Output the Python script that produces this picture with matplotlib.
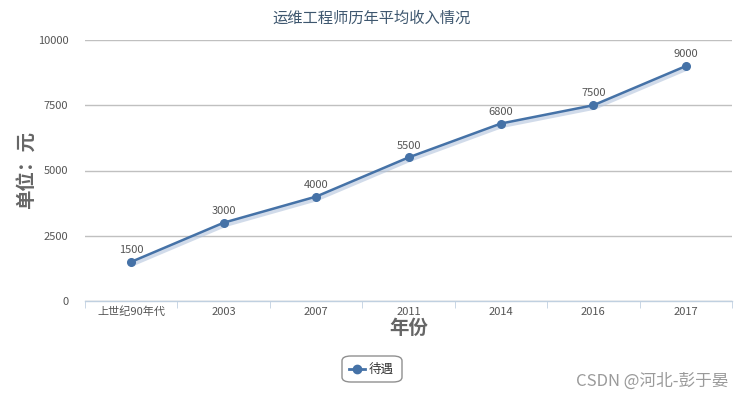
import matplotlib
matplotlib.use("Agg")
import matplotlib.pyplot as plt
import matplotlib.patheffects as pe
from matplotlib.patches import FancyBboxPatch

plt.rcParams['font.family'] = ['Noto Sans CJK SC', 'DejaVu Sans']

# data
years = ['上世纪90年代', '2003', '2007', '2011', '2014', '2016', '2017']
income = [1500, 3000, 4000, 5500, 6800, 7500, 9000]
yticks = [0, 2500, 5000, 7500, 10000]

line_color = '#4572A7'
W, H = 743, 400
fig = plt.figure(figsize=(W / 100, H / 100), dpi=100)
# plot area in pixels: left 85, right 732, top 40, bottom 301
ax = fig.add_axes([85 / W, 1 - 301 / H, (732 - 85) / W, (301 - 40) / H])

x = list(range(len(years)))
# line with a soft shadow, markers on top without it
ax.plot(x, income, color=line_color, lw=1.8, zorder=3,
        path_effects=[pe.SimpleLineShadow(offset=(0.8, -1.5), shadow_color='#b3c4dc', alpha=0.6, linewidth=3.5),
                      pe.Normal()])
ax.plot(x, income, color=line_color, lw=0, marker='o', ms=5.5, zorder=4)
for xi, v in zip(x, income):
    ax.annotate(str(v), (xi, v), xytext=(0, 5), textcoords='offset points',
                ha='center', va='bottom', fontsize=8, color='#555555')

ax.set_xlim(-0.5, len(years) - 0.5)
ax.set_ylim(0, 10000)
ax.set_yticks(yticks)
ax.set_yticklabels([str(t) for t in yticks], fontsize=8, color='#555555')
ax.set_xticks(x)
ax.set_xticklabels(years, fontsize=8, color='#555555')
ax.set_xticks([i - 0.5 for i in range(len(years) + 1)], minor=True)
ax.tick_params(axis='x', which='major', length=0, pad=4)
ax.tick_params(axis='x', which='minor', length=5, color='#C0D0E0', direction='out')
ax.tick_params(axis='y', length=0, pad=12)

ax.grid(axis='y', color='#C0C0C0', lw=1)
ax.set_axisbelow(True)
for s in ['top', 'right', 'left']:
    ax.spines[s].set_visible(False)
ax.spines['bottom'].set_color('#C0D0E0')
ax.spines['bottom'].set_linewidth(1)

ax.set_xlabel('年份', fontsize=14, fontweight='bold', color='#666666', labelpad=1)
ax.set_ylabel('单位：元', fontsize=14, fontweight='bold', color='#666666')
ax.yaxis.set_label_coords(-0.074, 0.5)

fig.text(0.5, 1 - 18 / H, '运维工程师历年平均收入情况', ha='center', va='center',
         fontsize=11, color='#3E576F')

# legend
box = FancyBboxPatch((342 / W, 1 - 382 / H), 60 / W, 26 / H,
                     boxstyle='round,pad=0,rounding_size=0.012', transform=fig.transFigure,
                     facecolor='white', edgecolor='#909090', lw=1)
fig.patches.append(box)
fig.lines.append(plt.Line2D([349 / W, 365 / W], [1 - 369 / H] * 2, transform=fig.transFigure,
                            color=line_color, lw=2))
fig.lines.append(plt.Line2D([357 / W], [1 - 369 / H], transform=fig.transFigure,
                            color=line_color, marker='o', ms=6, lw=0))
fig.text(369 / W, 1 - 369 / H, '待遇', ha='left', va='center', fontsize=9, color='#333333')

fig.text(728 / W, 1 - 381 / H, 'CSDN @河北-彭于晏', ha='right', va='center',
         fontsize=12, color='#9a9a9a')

fig.savefig('out.png', dpi=100)
